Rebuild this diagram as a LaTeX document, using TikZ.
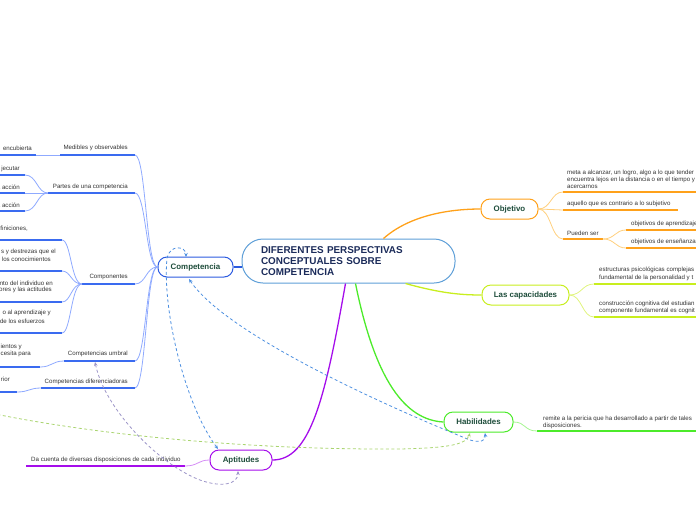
\documentclass[tikz,border=0pt]{standalone}
\usepackage{fontspec}
\setmainfont{Liberation Sans}
\usetikzlibrary{arrows.meta}
\definecolor{rootbd}{HTML}{5E9FD8}
\definecolor{roottx}{HTML}{1B2B5A}
\definecolor{nodetx}{HTML}{1E4D3B}
\definecolor{txt}{HTML}{333333}
\definecolor{cblue}{HTML}{2C5BE0}
\definecolor{ublue}{HTML}{3A6BF0}
\definecolor{lblue}{HTML}{8FAAFF}
\definecolor{corange}{HTML}{FFA11A}
\definecolor{lorange}{HTML}{FFD07E}
\definecolor{cyel}{HTML}{C8EE1E}
\definecolor{lyel}{HTML}{E0F47E}
\definecolor{cgreen}{HTML}{4CEB2A}
\definecolor{lgreen}{HTML}{A6F592}
\definecolor{cpurp}{HTML}{A50DEB}
\definecolor{lpurp}{HTML}{D48CF5}
\definecolor{dblue}{HTML}{4C8FE0}
\definecolor{dgreen}{HTML}{A9D46F}
\definecolor{dgray}{HTML}{9C95C8}
\tikzset{
  topic/.style={draw, rounded corners=9pt, line width=1pt, fill=white,
    font=\fontsize{7.9}{9}\selectfont\bfseries, text=nodetx, minimum height=20pt, inner sep=0pt},
  t/.style={font=\fontsize{6.15}{7}\selectfont, text=txt, inner sep=0pt},
  ul/.style={line width=1.8pt},
  br/.style={line width=1.3pt},
  lc/.style={line width=0.8pt},
  rel/.style={line width=0.8pt, dash pattern=on 3pt off 2.5pt, {Stealth[length=4pt,width=3.5pt]}-{Stealth[length=4pt,width=3.5pt]}}
}
\begin{document}
\begin{tikzpicture}[x=1pt,y=-1pt]
\useasboundingbox (0,0) rectangle (696,520);

% ---------- main nodes ----------
\node[draw=rootbd, line width=1pt, rounded corners=21pt, fill=white, minimum width=213pt, minimum height=44pt,
  text width=175pt, align=left, inner sep=0pt, font=\fontsize{9.9}{11}\selectfont\bfseries, text=roottx]
  (root) at (348.5,261) {DIFERENTES PERSPECTIVAS\\CONCEPTUALES SOBRE\\COMPETENCIA};
\node[topic, draw=cblue, minimum width=75pt] (comp) at (195.5,267) {Competencia};
\node[topic, draw=corange, minimum width=57pt] (obj) at (509.5,209) {Objetivo};
\node[topic, draw=cyel, minimum width=87pt] (cap) at (525.5,295) {Las capacidades};
\node[topic, draw=cgreen, minimum width=69pt] (hab) at (478.5,422) {Habilidades};
\node[topic, draw=cpurp, minimum width=62pt] (apt) at (241,460) {Aptitudes};

% ---------- main branches ----------
\draw[br, cblue] (comp.east) -- (comp.east -| root.west);
\draw[br, corange] ([xshift=35pt]root.north) .. controls (410,215) and (450,209) .. (obj.west);
\draw[br, cyel] ([xshift=57pt]root.south) .. controls (440,293) and (460,295) .. (cap.west);
\draw[br, cgreen] ([xshift=7pt]root.south) .. controls (375,380) and (405,420) .. (hab.west);
\draw[br, cpurp] ([xshift=-3pt]root.south) .. controls (325,400) and (310,460) .. (apt.east);

% ---------- Competencia children ----------
\node[t, anchor=east] (med) at (128,148) {Medibles y observables};
\node[t, anchor=east] (par) at (128,187) {Partes de una competencia};
\node[t, anchor=east] (cmp) at (128,277) {Componentes};
\node[t, anchor=east] (umb) at (128,354) {Competencias umbral};
\node[t, anchor=east] (dif) at (128,382) {Competencias diferenciadoras};
\coordinate (medL) at (60,155);  \coordinate (medR) at (135,155);
\coordinate (parL) at (48,193);  \coordinate (parR) at (135,193);
\coordinate (cmpL) at (82,284);  \coordinate (cmpR) at (135,284);
\coordinate (umbL) at (64,361);  \coordinate (umbR) at (135,361);
\coordinate (difL) at (41,388);  \coordinate (difR) at (135,388);
\foreach \a/\b in {medL/medR, parL/parR, cmpL/cmpR, umbL/umbR, difL/difR}
  \draw[ul, ublue] (\a) -- (\b);
\foreach \p in {medR, parR, cmpR, umbR, difR}
  \draw[lc, lblue] (comp.west) .. controls (146,267) and (146,267 |- \p) .. (\p);

% leaves of Medibles
\node[t, anchor=east] (enc) at (32,148) {encubierta};
\coordinate (encR) at (36,155);
\draw[ul, ublue] (-3,155) -- (encR);
\draw[lc, lblue] (encR) -- (medL);

% leaves of Partes
\node[t, anchor=east] (pa1) at (20,169) {jecutar};
\node[t, anchor=east] (pa2) at (20,187) {a acción};
\node[t, anchor=east] (pa3) at (20,205) {a acción};
\coordinate (pa1R) at (25,175); \coordinate (pa2R) at (25,193); \coordinate (pa3R) at (25,211);
\foreach \p in {pa1R, pa2R, pa3R} {
  \draw[ul, ublue] (-3,0 |- \p) -- (\p);
  \draw[lc, lblue] (parL) .. controls (37,193) and (37,0 |- \p) .. (\p);
}

% leaves of Componentes
\node[t, anchor=east] (co1) at (28,229) {finiciones,};
\node[t, anchor=east] (co2a) at (56,252) {s y destrezas que el};
\node[t, anchor=east] (co2b) at (51,259) {los conocimientos};
\node[t, anchor=east] (co3a) at (53,283) {nto del individuo en};
\node[t, anchor=east] (co3b) at (52,290) {ores y las actitudes};
\node[t, anchor=east] (co4a) at (51,313) {o al aprendizaje y};
\node[t, anchor=east] (co4b) at (45,321) {de los esfuerzos};
\coordinate (co1R) at (62,240); \coordinate (co2R) at (62,271);
\coordinate (co3R) at (62,302); \coordinate (co4R) at (62,333);
\foreach \p in {co1R, co2R, co3R, co4R} {
  \draw[ul, ublue] (-3,0 |- \p) -- (\p);
  \draw[lc, lblue] (cmpL) .. controls (71,284) and (71,0 |- \p) .. (\p);
}

% leaf of umbral
\node[t, anchor=east] (um1a) at (22,347) {ientos y};
\node[t, anchor=east] (um1b) at (31,354) {cesita para};
\coordinate (um1R) at (40,367);
\draw[ul, ublue] (-3,367) -- (um1R);
\draw[lc, lblue] (um1R) .. controls (52,367) and (52,361) .. (umbL);

% leaf of diferenciadoras
\node[t, anchor=east] (di1) at (10,379) {rior};
\coordinate (di1R) at (17,392);
\draw[ul, ublue] (-3,392) -- (di1R);
\draw[lc, lblue] (di1R) .. controls (29,392) and (29,388) .. (difL);

% ---------- Objetivo children ----------
\node[t, anchor=west] (o1a) at (567,173) {meta a alcanzar, un logro, algo a lo que tender};
\node[t, anchor=west] (o1b) at (567,180) {encuentra lejos en la distancia o en el tiempo y};
\node[t, anchor=west] (o1c) at (567,187) {acercarnos};
\node[t, anchor=west] (o2) at (567,204) {aquello que es contrario a lo subjetivo};
\node[t, anchor=west] (o3) at (567,233) {Pueden ser};
\node[t, anchor=west] (o31) at (631,224) {objetivos de aprendizaje};
\node[t, anchor=west] (o32) at (631,242) {objetivos de enseñanza};
\coordinate (o1L) at (563,192); \coordinate (o2L) at (563,210); \coordinate (o3L) at (563,239);
\coordinate (o3R) at (603,239); \coordinate (o31L) at (626,230); \coordinate (o32L) at (626,248);
\draw[ul, corange] (o1L) -- (700,192);
\draw[ul, corange] (o2L) -- (678,210);
\draw[ul, corange] (o3L) -- (o3R);
\draw[ul, corange] (o31L) -- (700,230);
\draw[ul, corange] (o32L) -- (700,248);
\foreach \p in {o1L, o2L, o3L}
  \draw[lc, lorange] (obj.east) .. controls (551,209) and (551,0 |- \p) .. (\p);
\foreach \p in {o31L, o32L}
  \draw[lc, lorange] (o3R) .. controls (615,239) and (615,0 |- \p) .. (\p);

% ---------- Capacidades children ----------
\node[t, anchor=west] (c1a) at (599,270) {estructuras psicológicas complejas};
\node[t, anchor=west] (c1b) at (599,278) {fundamental de la personalidad y t};
\node[t, anchor=west] (c2a) at (599,304) {construcción cognitiva del estudian};
\node[t, anchor=west] (c2b) at (599,311) {componente fundamental es cognit};
\coordinate (c1L) at (594,284); \coordinate (c2L) at (594,317);
\draw[ul, cyel] (c1L) -- (700,284);
\draw[ul, cyel] (c2L) -- (700,317);
\foreach \p in {c1L, c2L}
  \draw[lc, lyel] (cap.east) .. controls (582,295) and (582,0 |- \p) .. (\p);

% ---------- Habilidades child ----------
\node[t, anchor=west] (h1a) at (543,419) {remite a la pericia que ha desarrollado a partir de tales};
\node[t, anchor=west] (h1b) at (543,426) {disposiciones.};
\coordinate (h1L) at (537,431);
\draw[ul, cgreen] (h1L) -- (700,431);
\draw[lc, lgreen] (hab.east) .. controls (526,422) and (524,431) .. (h1L);

% ---------- Aptitudes child ----------
\node[t, anchor=west] (a1) at (31,460) {Da cuenta de diversas disposiciones de cada individuo};
\coordinate (a1R) at (185,466);
\draw[ul, cpurp] (26,466) -- (a1R);
\draw[lc, lpurp] (a1R) .. controls (198,466) and (198,460) .. (apt.west);

% ---------- relationships (dashed) ----------
\coordinate (relA1) at (218,449);
\coordinate (relC1) at (186,257);
\draw[rel, dblue] (relA1) .. controls (185,405) and (162,310) .. (167,258) .. controls (170,244) and (186,246) .. (relC1);
\coordinate (relC2) at (189,279);
\coordinate (relH1) at (485,433);
\draw[rel, dblue] (relC2) .. controls (230,340) and (420,420) .. (470,440) .. controls (480,443) and (486,441) .. (relH1);
\coordinate (relX) at (-5,414);
\coordinate (relH2) at (470,433);
\draw[rel, dgreen] (relX) .. controls (100,435) and (250,450) .. (400,449) .. controls (440,448) and (466,446) .. (relH2);
\coordinate (relU) at (95,362);
\coordinate (relA2) at (238,471);
\draw[rel, dgray] (relU) .. controls (105,410) and (160,465) .. (200,480) .. controls (222,488) and (238,484) .. (relA2);
\end{tikzpicture}
\end{document}
